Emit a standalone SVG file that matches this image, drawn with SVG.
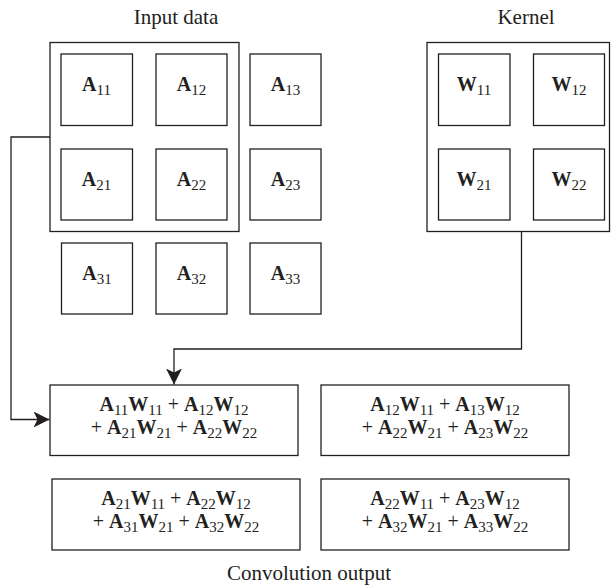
<svg xmlns="http://www.w3.org/2000/svg" width="611" height="588" viewBox="0 0 611 588">
<style>
rect{fill:#fff;stroke:#231f20;stroke-width:1.3}
text{font-family:"Liberation Serif","Times New Roman","DejaVu Serif",serif;fill:#231f20;text-anchor:middle}
.t{font-size:21px}
.b{font-size:20px;font-weight:bold}
.s{font-size:15px;font-weight:normal}
.p{font-weight:normal}
.c{fill:none;stroke:#231f20;stroke-width:1.3}
</style>
<defs>
<marker id="ah" markerUnits="userSpaceOnUse" markerWidth="16" markerHeight="16" refX="16" refY="8" orient="auto">
<path d="M0,0 L16,8 L0,16 L4,8 z" fill="#231f20"/>
</marker>
</defs>
<text class="t" x="176" y="24">Input data</text>
<text class="t" x="526" y="24">Kernel</text>
<text class="t" x="309" y="580">Convolution output</text>

<g id="input-window"><rect x="50" y="42.5" width="189" height="189"/></g>
<g id="kernel"><rect x="427" y="42.5" width="182.5" height="189"/></g>

<g id="A11"><rect x="61" y="54" width="71.5" height="71.5"/><text class="b" x="96.5" y="90.5">A<tspan class="s" dy="4">11</tspan></text></g>
<g id="A12"><rect x="156" y="54" width="71" height="71.5"/><text class="b" x="191.5" y="90.5">A<tspan class="s" dy="4">12</tspan></text></g>
<g id="A13"><rect x="250" y="54" width="71" height="71.5"/><text class="b" x="285.5" y="90.5">A<tspan class="s" dy="4">13</tspan></text></g>
<g id="A21"><rect x="61" y="149" width="71.5" height="71"/><text class="b" x="96.5" y="185.5">A<tspan class="s" dy="4">21</tspan></text></g>
<g id="A22"><rect x="156" y="149" width="71" height="71"/><text class="b" x="191.5" y="185.5">A<tspan class="s" dy="4">22</tspan></text></g>
<g id="A23"><rect x="250" y="149" width="71" height="71"/><text class="b" x="285.5" y="185.5">A<tspan class="s" dy="4">23</tspan></text></g>
<g id="A31"><rect x="61.5" y="243" width="71" height="71"/><text class="b" x="97" y="280">A<tspan class="s" dy="4">31</tspan></text></g>
<g id="A32"><rect x="156" y="243" width="71" height="71"/><text class="b" x="191.5" y="280">A<tspan class="s" dy="4">32</tspan></text></g>
<g id="A33"><rect x="250" y="243" width="71" height="71"/><text class="b" x="285.5" y="280">A<tspan class="s" dy="4">33</tspan></text></g>

<g id="W11"><rect x="438.5" y="54" width="71.5" height="71.5"/><text class="b" x="474" y="90.5">W<tspan class="s" dy="4">11</tspan></text></g>
<g id="W12"><rect x="533.5" y="54" width="71" height="71.5"/><text class="b" x="569" y="90.5">W<tspan class="s" dy="4">12</tspan></text></g>
<g id="W21"><rect x="438.5" y="149" width="71.5" height="71"/><text class="b" x="474" y="185.5">W<tspan class="s" dy="4">21</tspan></text></g>
<g id="W22"><rect x="533.5" y="149" width="71" height="71"/><text class="b" x="569" y="185.5">W<tspan class="s" dy="4">22</tspan></text></g>

<g id="O11"><rect x="50" y="385" width="248" height="70.5"/>
<text class="b" x="174" y="410.5">A<tspan class="s" dy="4">11</tspan><tspan dy="-4">W</tspan><tspan class="s" dy="4">11</tspan><tspan class="p" dy="-4"> + </tspan>A<tspan class="s" dy="4">12</tspan><tspan dy="-4">W</tspan><tspan class="s" dy="4">12</tspan></text>
<text class="b" x="174" y="433.5"><tspan class="p">+ </tspan>A<tspan class="s" dy="4">21</tspan><tspan dy="-4">W</tspan><tspan class="s" dy="4">21</tspan><tspan class="p" dy="-4"> + </tspan>A<tspan class="s" dy="4">22</tspan><tspan dy="-4">W</tspan><tspan class="s" dy="4">22</tspan></text></g>

<g id="O12"><rect x="321" y="385" width="248" height="70.5"/>
<text class="b" x="445" y="410.5">A<tspan class="s" dy="4">12</tspan><tspan dy="-4">W</tspan><tspan class="s" dy="4">11</tspan><tspan class="p" dy="-4"> + </tspan>A<tspan class="s" dy="4">13</tspan><tspan dy="-4">W</tspan><tspan class="s" dy="4">12</tspan></text>
<text class="b" x="445" y="433.5"><tspan class="p">+ </tspan>A<tspan class="s" dy="4">22</tspan><tspan dy="-4">W</tspan><tspan class="s" dy="4">21</tspan><tspan class="p" dy="-4"> + </tspan>A<tspan class="s" dy="4">23</tspan><tspan dy="-4">W</tspan><tspan class="s" dy="4">22</tspan></text></g>

<g id="O21"><rect x="52" y="479" width="248" height="71"/>
<text class="b" x="176" y="504.5">A<tspan class="s" dy="4">21</tspan><tspan dy="-4">W</tspan><tspan class="s" dy="4">11</tspan><tspan class="p" dy="-4"> + </tspan>A<tspan class="s" dy="4">22</tspan><tspan dy="-4">W</tspan><tspan class="s" dy="4">12</tspan></text>
<text class="b" x="176" y="527.5"><tspan class="p">+ </tspan>A<tspan class="s" dy="4">31</tspan><tspan dy="-4">W</tspan><tspan class="s" dy="4">21</tspan><tspan class="p" dy="-4"> + </tspan>A<tspan class="s" dy="4">32</tspan><tspan dy="-4">W</tspan><tspan class="s" dy="4">22</tspan></text></g>

<g id="O22"><rect x="321" y="479" width="248" height="71"/>
<text class="b" x="445" y="504.5">A<tspan class="s" dy="4">22</tspan><tspan dy="-4">W</tspan><tspan class="s" dy="4">11</tspan><tspan class="p" dy="-4"> + </tspan>A<tspan class="s" dy="4">23</tspan><tspan dy="-4">W</tspan><tspan class="s" dy="4">12</tspan></text>
<text class="b" x="445" y="527.5"><tspan class="p">+ </tspan>A<tspan class="s" dy="4">32</tspan><tspan dy="-4">W</tspan><tspan class="s" dy="4">21</tspan><tspan class="p" dy="-4"> + </tspan>A<tspan class="s" dy="4">33</tspan><tspan dy="-4">W</tspan><tspan class="s" dy="4">22</tspan></text></g>

<g id="connectors">
<path class="c" d="M521.5,231.5 V349 H174 V384.5" marker-end="url(#ah)"/>
<path class="c" d="M50,137 H11 V419.5 H49.5" marker-end="url(#ah)"/>
</g>
</svg>
